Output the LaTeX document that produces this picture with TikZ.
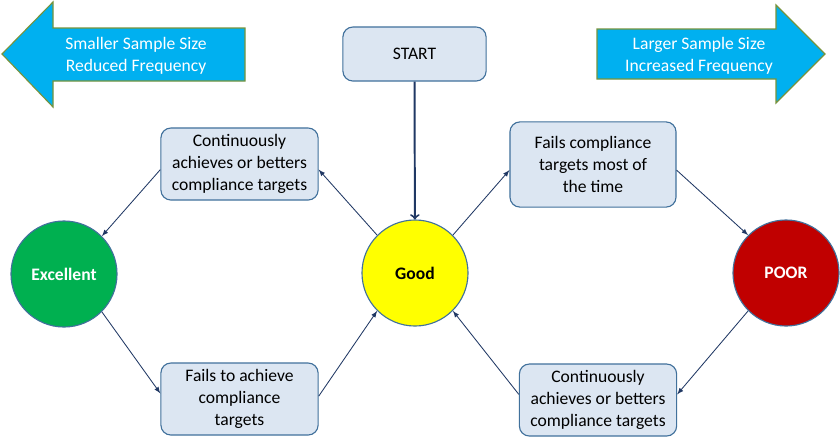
\documentclass[tikz,border=0pt]{standalone}
\usepackage{fontspec}
\setmainfont{Carlito}
\usepackage{tikz}
\usetikzlibrary{shapes,arrows, positioning}
\definecolor{skyblue}{HTML}{00B0F0}
\definecolor{olive}{HTML}{77933C}
\definecolor{boxfill}{HTML}{DCE6F2}
\definecolor{boxedge}{HTML}{41719C}
\definecolor{navy}{HTML}{203864}
\definecolor{goodyellow}{HTML}{FFFF00}
\definecolor{excgreen}{HTML}{00B050}
\definecolor{poorred}{HTML}{C00000}
\tikzstyle{bigarrow} = [fill=skyblue, draw=olive, line width=0.8pt, line join=miter]
\tikzstyle{arrowtext} = [text=white, align=center, font=\fontsize{12.5}{15.5}\selectfont]
\tikzstyle{rbox} = [rectangle, rounded corners=0.25cm, draw=boxedge, fill=boxfill, line width=0.8pt, minimum width=3.93cm, minimum height=1.8cm, align=center, font=\fontsize{12.5}{15.5}\selectfont]
\tikzstyle{state} = [circle, draw=boxedge, line width=0.8pt, minimum size=2.65cm, inner sep=0pt, font=\fontsize{12.5}{15}\selectfont\bfseries]
\tikzstyle{line} = [draw=navy, line width=0.6pt, -latex]

\begin{document}
\begin{tikzpicture}[x=0.025cm, y=-0.025cm]
			\useasboundingbox [fill=white] (0,0) rectangle (840,443);
			% direction arrows
			\path [bigarrow] (2,54) -- (53,2) -- (53,28) -- (245,28) -- (245,81) -- (53,81) -- (53,107) -- cycle;
			\path [bigarrow] (825,54) -- (776,5) -- (776,29) -- (597,29) -- (597,79) -- (776,79) -- (776,103) -- cycle;
			\node [arrowtext] (smaller) at (136,55.5) {Smaller Sample Size\\Reduced Frequency};
			\node [arrowtext] (larger) at (699,55.5) {Larger Sample Size\\Increased Frequency};

			\node [rbox, minimum width=3.58cm, minimum height=1.35cm] (start) at (414.5,54) {START};
			\node [state, fill=goodyellow] (good) at (415,273) {Good};
			\node [state, fill=excgreen, text=white] (excellent) at (64,274) {Excellent};
			\node [state, fill=poorred, text=white] (poor) at (786,273) {POOR};

			\node [rbox] (betterL) at (239.5,164) {Continuously\\achieves or betters\\compliance targets};
			\node [rbox, minimum width=4.15cm, minimum height=2.13cm] (failsR) at (593,164.5) {Fails compliance\\targets most of\\the time};
			\node [rbox] (failsL) at (239.5,399) {Fails to achieve\\compliance\\targets};
			\node [rbox] (betterR) at (598,400) {Continuously\\achieves or betters\\compliance targets};

			\draw [draw=navy, line width=1.4pt, -to] (start) -- (good);
			\path [line] (good.135) -- ([yshift=-4]betterL.east);
			\path [line] ([yshift=-4]betterL.west) -- (excellent.45);
			\path [line] (excellent.315) -- ([yshift=4]failsL.west);
			\path [line] ([yshift=2]failsL.east) -- (good.225);
			\path [line] (good.45) -- ([yshift=-4]failsR.west);
			\path [line] ([yshift=-4]failsR.east) -- (poor.135);
			\path [line] (poor.225) -- ([yshift=4]betterR.east);
			\path [line] ([yshift=4]betterR.west) -- (good.315);
		\end{tikzpicture}
\end{document}
